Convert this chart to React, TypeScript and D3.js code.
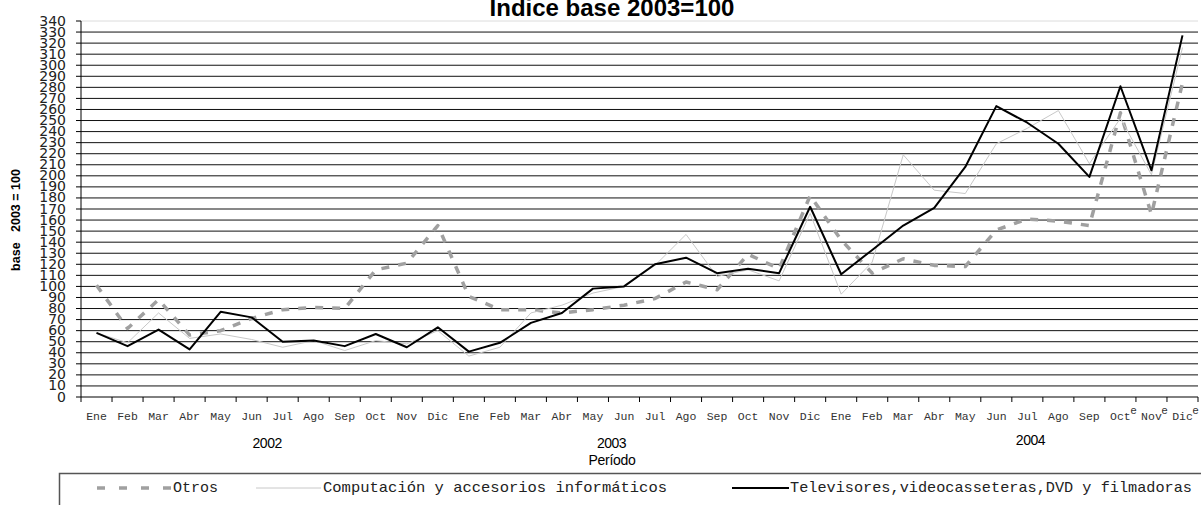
import React from "react";
import * as d3 from "d3";

const MONTHS = ["Ene", "Feb", "Mar", "Abr", "May", "Jun", "Jul", "Ago", "Sep", "Oct", "Nov", "Dic"];
const YEARS = ["2002", "2003", "2004"];
// etiquetas con "e" (estimado) en 2004
const ESTIMATED = ["2004-Oct", "2004-Nov", "2004-Dic"];

const OTROS = [
  101, 62, 88, 56, 60, 71, 79, 81, 80, 115, 121, 155,
  91, 79, 79, 76, 79, 83, 89, 104, 97, 129, 116, 182,
  142, 112, 125, 119, 118, 151, 161, 159, 155, 257, 165, 284,
];
const COMPUTACION = [
  58, 49, 76, 53, 57, 52, 45, 51, 42, 51, 48, 60,
  37, 45, 76, 83, 94, 100, 119, 147, 109, 115, 105, 166,
  93, 122, 219, 187, 184, 229, 243, 259, 211, 252, 201, 316,
];
const TELEVISORES = [
  58, 46, 61, 43, 77, 72, 50, 51, 46, 57, 45, 63,
  41, 49, 67, 76, 98, 100, 120, 126, 112, 116, 112, 172,
  111, 133, 155, 171, 208, 263, 248, 229, 199, 281, 205, 327,
];

const Y_TICKS = d3.range(0, 341, 10);

const W = 1201;
const H = 505;
const PLOT = { left: 81, right: 1198, top: 21, bottom: 397 };
// posición de la etiqueta de año, en unidades de categoría
const YEAR_POS = [6.0, 17.1, 30.6];

const MONO = "'Liberation Mono', 'Courier New', monospace";
const SANS = "'Liberation Sans', Arial, sans-serif";

export default function App() {
  const keys = YEARS.flatMap((y) => MONTHS.map((m) => `${y}-${m}`));

  const x = d3.scaleBand<string>().domain(keys).range([PLOT.left, PLOT.right]);
  const y = d3.scaleLinear().domain([0, 340]).range([PLOT.bottom, PLOT.top]);
  const step = x.step();
  const cx = (k: string) => (x(k) ?? 0) + x.bandwidth() / 2;

  const line = d3
    .line<number>()
    .x((_, i) => cx(keys[i]))
    .y((d) => y(d));

  const series = [
    { name: "Otros", values: OTROS, stroke: "#a0a0a0", width: 3.5, dash: "8,9" },
    { name: "Computación y accesorios informáticos", values: COMPUTACION, stroke: "#c8c8c8", width: 1, dash: null },
    { name: "Televisores,videocasseteras,DVD y filmadoras", values: TELEVISORES, stroke: "#000", width: 2, dash: null },
  ];

  return (
    <svg
      width={W}
      height={H}
      style={{ position: "absolute", left: 0, top: 0, background: "#fff" }}
      xmlns="http://www.w3.org/2000/svg"
    >
      <rect width={W} height={H} fill="#fff" />

      <text x={612} y={16} textAnchor="middle" fontFamily={SANS} fontWeight="bold" fontSize={24} fill="#000">
        Indice base 2003=100
      </text>

      {/* gridlines */}
      {Y_TICKS.filter((t) => t > 0 && t < 340).map((t) => (
        <line key={t} x1={PLOT.left} x2={PLOT.right} y1={y(t)} y2={y(t)} stroke="#111" strokeWidth={1} />
      ))}
      <line x1={PLOT.left} x2={PLOT.right} y1={y(340)} y2={y(340)} stroke="#dcdcdc" strokeWidth={1} />

      {/* y axis */}
      <line x1={PLOT.left} x2={PLOT.left} y1={y(340)} y2={y(0)} stroke="#000" strokeWidth={1} />
      {Y_TICKS.map((t) => (
        <g key={t}>
          <line x1={PLOT.left - 5} x2={PLOT.left} y1={y(t)} y2={y(t)} stroke="#000" strokeWidth={1} />
          <text
            x={66}
            y={y(t) + 4.5}
            textAnchor="end"
            fontFamily="'DejaVu Sans', sans-serif"
            fontSize={14}
            fill="#222"
          >
            {t}
          </text>
        </g>
      ))}
      <text
        transform={`translate(20,220) rotate(-90)`}
        textAnchor="middle"
        fontFamily={SANS}
        fontWeight="bold"
        fontSize={12.5}
        fill="#000"
        style={{ whiteSpace: "pre" }}
      >
        {"base   2003 = 100"}
      </text>

      {/* x axis */}
      <line x1={PLOT.left} x2={PLOT.right} y1={y(0)} y2={y(0)} stroke="#000" strokeWidth={1} />
      {d3.range(keys.length + 1).map((i) => (
        <line
          key={i}
          x1={PLOT.left + i * step}
          x2={PLOT.left + i * step}
          y1={y(0)}
          y2={y(0) + 5}
          stroke="#000"
          strokeWidth={1}
        />
      ))}
      {keys.map((k) => {
        const m = k.split("-")[1];
        return (
          <g key={k}>
            <text x={cx(k)} y={420} textAnchor="middle" fontFamily={MONO} fontSize={11.5} fill="#333">
              {m}
            </text>
            {ESTIMATED.includes(k) && (
              <text x={cx(k) + 10} y={414} fontFamily={SANS} fontSize={11} fill="#333">
                e
              </text>
            )}
          </g>
        );
      })}
      {YEARS.map((yr, i) => (
        <text
          key={yr}
          x={PLOT.left + YEAR_POS[i] * step}
          y={i === 2 ? 445 : 448}
          textAnchor="middle"
          fontFamily={SANS}
          fontSize={14}
          letterSpacing={-0.5}
          fill="#000"
        >
          {yr}
        </text>
      ))}
      <text x={612} y={465} textAnchor="middle" fontFamily={SANS} fontSize={14} letterSpacing={-0.3} fill="#000">
        Período
      </text>

      {/* series */}
      {series.map((s) => (
        <path
          key={s.name}
          d={line(s.values) ?? ""}
          fill="none"
          stroke={s.stroke}
          strokeWidth={s.width}
          strokeDasharray={s.dash ?? undefined}
          strokeLinejoin="round"
        />
      ))}

      {/* legend */}
      <rect x={59.5} y={473.5} width={1200} height={60} fill="#fff" stroke="#555" strokeWidth={1.5} />
      <line x1={97} x2={172} y1={488} y2={488} stroke="#a0a0a0" strokeWidth={3.5} strokeDasharray="8,14" />
      <text x={173} y={492} fontFamily={MONO} fontSize={15} textLength={45} lengthAdjust="spacingAndGlyphs" fill="#222">
        Otros
      </text>
      <line x1={256} x2={321} y1={488} y2={488} stroke="#c8c8c8" strokeWidth={1} />
      <text x={323} y={492} fontFamily={MONO} fontSize={15} textLength={344} lengthAdjust="spacingAndGlyphs" fill="#222">
        Computación y accesorios informáticos
      </text>
      <line x1={732} x2={789} y1={488} y2={488} stroke="#000" strokeWidth={2} />
      <text x={790} y={492} fontFamily={MONO} fontSize={15} textLength={402} lengthAdjust="spacingAndGlyphs" fill="#222">
        Televisores,videocasseteras,DVD y filmadoras
      </text>
    </svg>
  );
}
